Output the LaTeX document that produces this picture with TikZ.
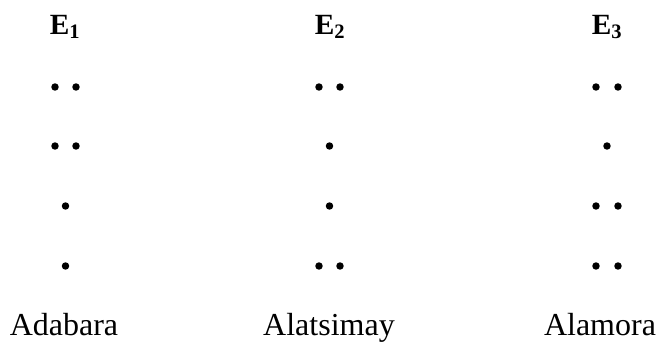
\documentclass[tikz,border=0pt]{standalone}
\usepackage{fontspec}
\setmainfont{Liberation Serif}
\usepackage{tikz}

\begin{document}
\begin{tikzpicture}[x=0.75pt,y=-0.75pt]
\tikzset{
  dotpt/.style={circle,fill=black,inner sep=0pt,minimum size=5.6pt},
  hdtxt/.style={anchor=base,inner sep=0pt,font=\fontsize{22}{25}\selectfont\bfseries},
  lbltxt/.style={anchor=base,inner sep=0pt,font=\fontsize{24}{28}\selectfont}
}
\useasboundingbox (0,0) rectangle (665,343);
\node[hdtxt] (e1) at (65,34) {E\textsubscript{1}};
\node[hdtxt] (e2) at (330,34) {E\textsubscript{2}};
\node[hdtxt] (e3) at (607,34) {E\textsubscript{3}};
\node[dotpt] (a1l) at (55,87) {};
\node[dotpt] (a1r) at (76,87) {};
\node[dotpt] (a2l) at (55,146) {};
\node[dotpt] (a2r) at (76,146) {};
\node[dotpt] (a3) at (65.5,206) {};
\node[dotpt] (a4) at (65.5,266) {};
\node[dotpt] (b1l) at (319,87) {};
\node[dotpt] (b1r) at (340,87) {};
\node[dotpt] (b2) at (329.5,146) {};
\node[dotpt] (b3) at (329.5,206) {};
\node[dotpt] (b4l) at (319,266) {};
\node[dotpt] (b4r) at (340,266) {};
\node[dotpt] (c1l) at (596,87) {};
\node[dotpt] (c1r) at (618,87) {};
\node[dotpt] (c2) at (607,146) {};
\node[dotpt] (c3l) at (596,206) {};
\node[dotpt] (c3r) at (618,206) {};
\node[dotpt] (c4l) at (596,266) {};
\node[dotpt] (c4r) at (618,266) {};
\node[lbltxt] (adabara) at (64,335) {Adabara};
\node[lbltxt] (alatsimay) at (329,335) {Alatsimay};
\node[lbltxt] (alamora) at (600,335) {Alamora};
\end{tikzpicture}
\end{document}
